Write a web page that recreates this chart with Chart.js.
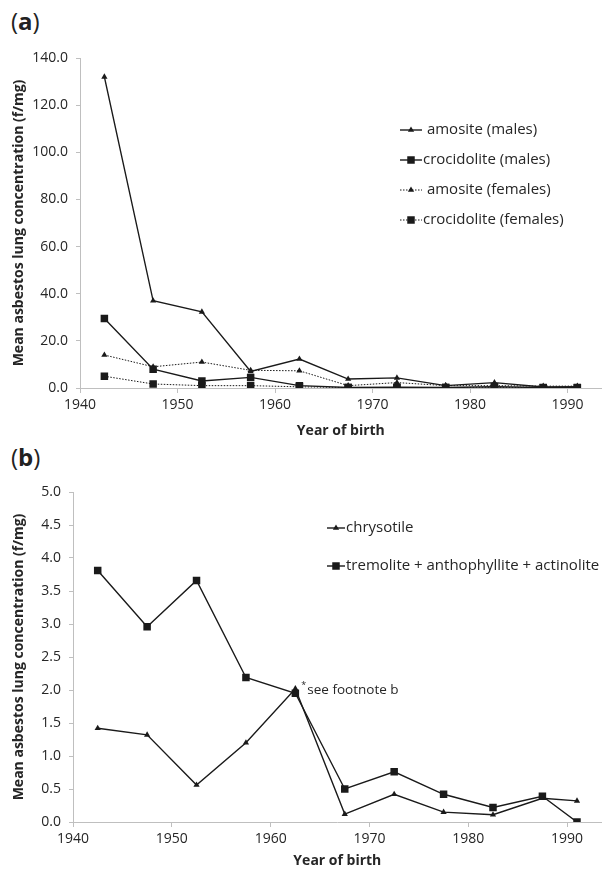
<!DOCTYPE html>
<html>
<head>
<meta charset="utf-8">
<script src="https://cdn.jsdelivr.net/npm/chart.js@4.4.0/dist/chart.umd.min.js"></script>
<style>
  body { margin: 0; background: #fff; width: 607px; height: 870px; position: relative; overflow: hidden; font-family: "Open Sans", sans-serif; }
  .panel { position: absolute; left: 11px; font-size: 24px; color: #222; line-height: 1; }
  #wrapA { position: absolute; left: 0; top: 0; width: 607px; height: 440px; }
  #wrapB { position: absolute; left: 0; top: 440px; width: 607px; height: 430px; }
</style>
</head>
<body>
<div class="panel" style="top:9px">(<b>a</b>)</div>
<div class="panel" style="top:445px">(<b>b</b>)</div>
<div id="wrapA"><canvas id="chartA" width="607" height="440"></canvas></div>
<div id="wrapB"><canvas id="chartB" width="607" height="430"></canvas></div>
<script>
// birth cohort mid-points (last group is plotted a bit further along)
const YEARS = [1942.5, 1947.5, 1952.5, 1957.5, 1962.5, 1967.5, 1972.5, 1977.5, 1982.5, 1987.5, 1991]
const X_TICKS = [1940, 1950, 1960, 1970, 1980, 1990]

// panel (a)
const AMOSITE_M = [132, 37, 32.3, 7, 12.3, 3.8, 4.3, 1, 2.3, 0.4, 0.5]
const CROCIDOLITE_M = [29.5, 8, 3, 4.5, 1, 0.2, 0.3, 0.2, 0.5, 0.2, 0.2]
const AMOSITE_F = [14, 9, 11, 7.5, 7.3, 1, 2.3, 1, 1, 0.8, 0.8]
const CROCIDOLITE_F = [5, 1.7, 1, 1, 0.5, 0.2, 0.2, 0.2, 0.3, 0.1, 0.1]
const LABELS_A = [' amosite (males)', 'crocidolite (males)', ' amosite (females)', 'crocidolite (females)']

// panel (b)
const CHRYSOTILE = [1.42, 1.32, 0.56, 1.2, 2.02, 0.12, 0.42, 0.15, 0.11, 0.36, 0.32]
const TREMOLITE = [3.81, 2.96, 3.66, 2.19, 1.95, 0.5, 0.76, 0.42, 0.22, 0.39, 0.0]
const LABELS_B = ['chrysotile', 'tremolite + anthophyllite + actinolite']
const FOOTNOTE = { x: 1962.5, y: 2.0, star: '*', text: 'see footnote b' }

const Y_TITLE = 'Mean asbestos lung concentration (f/mg)'
const X_TITLE = 'Year of birth'

const FONT = '"Open Sans", sans-serif'
const AXIS_GRAY = '#bfbfbf'
const TEXT = '#262626'

const toPts = (vals) => vals.map((v, i) => ({ x: YEARS[i], y: v }))

function drawMarker(ctx, style, x, y, r) {
    ctx.beginPath()
    if (style == 'rect') {
        const s = r * Math.SQRT1_2
        ctx.rect(x - s, y - s, 2 * s, 2 * s)
    } else {
        ctx.moveTo(x, y - r)
        ctx.lineTo(x + r * 0.87, y + r * 0.5)
        ctx.lineTo(x - r * 0.87, y + r * 0.5)
        ctx.closePath()
    }
    ctx.fill()
}

// legend drawn at a fixed spot inside the plot, like the original
const sideLegend = {
    id: 'sideLegend',
    afterDraw(chart, args, opts) {
        const ctx = chart.ctx
        chart.data.datasets.forEach((ds, i) => {
            const y = opts.y0 + i * opts.gap
            ctx.save()
            ctx.strokeStyle = ds.borderColor
            ctx.lineWidth = ds.borderWidth
            ctx.setLineDash(ds.borderDash || [])
            ctx.beginPath()
            ctx.moveTo(opts.x0, y)
            ctx.lineTo(opts.x0 + opts.len, y)
            ctx.stroke()
            ctx.setLineDash([])
            ctx.fillStyle = ds.pointBackgroundColor
            drawMarker(ctx, ds.pointStyle, opts.x0 + opts.len / 2, y, ds.pointRadius)
            ctx.fillStyle = TEXT
            ctx.font = opts.font
            ctx.textBaseline = 'middle'
            ctx.textAlign = 'left'
            ctx.fillText(ds.label, opts.x0 + opts.len + opts.textGap, y)
            ctx.restore()
        })
    }
}

const footnote = {
    id: 'footnote',
    afterDraw(chart, args, opts) {
        if (!opts.text) return
        const ctx = chart.ctx
        const x = chart.scales.x.getPixelForValue(opts.x)
        const y = chart.scales.y.getPixelForValue(opts.y)
        ctx.save()
        ctx.fillStyle = TEXT
        ctx.textBaseline = 'middle'
        ctx.font = '9px ' + FONT
        ctx.fillText(opts.star, x + 6, y - 5)
        ctx.font = '13.5px ' + FONT
        ctx.fillText(opts.text, x + 12, y)
        ctx.restore()
    }
}

function lineSet(label, vals, style, dotted) {
    return {
        label: label,
        data: toPts(vals),
        borderColor: '#1a1a1a',
        borderWidth: dotted ? 1 : 1.4,
        borderDash: dotted ? [1.5, 1.5] : [],
        pointStyle: style,
        pointRadius: style == 'rect' ? 5.3 : 3.6,
        pointBackgroundColor: '#1a1a1a',
        pointBorderWidth: 0,
        tension: 0
    }
}

function makeOptions(cfg) {
    return {
        responsive: false,
        animation: false,
        layout: { padding: { top: cfg.top, right: 3, left: 0, bottom: 0 } },
        plugins: {
            legend: { display: false },
            tooltip: { enabled: false },
            sideLegend: cfg.legend,
            footnote: cfg.footnote || {}
        },
        scales: {
            x: {
                type: 'linear',
                min: 1940,
                max: 1993.5,
                afterBuildTicks: (s) => { s.ticks = X_TICKS.map(v => ({ value: v })) },
                afterFit: (s) => { s.height = cfg.xHeight },
                ticks: { autoSkip: false, maxRotation: 0, color: TEXT, padding: 4, font: { family: FONT, size: 14 }, callback: (v) => String(v) },
                grid: { drawOnChartArea: false, tickLength: 5, color: AXIS_GRAY },
                border: { color: AXIS_GRAY },
                title: { display: true, text: X_TITLE, color: TEXT, font: { family: FONT, size: 14, weight: 'bold' }, padding: { top: 0, bottom: 1 } }
            },
            y: {
                min: 0,
                max: cfg.yMax,
                afterFit: (s) => { s.width = cfg.yWidth },
                ticks: { stepSize: cfg.yStep, color: TEXT, padding: 8, font: { family: FONT, size: 14 }, callback: (v) => Number(v).toFixed(1) },
                grid: { drawOnChartArea: false, tickLength: 4, color: AXIS_GRAY },
                border: { color: AXIS_GRAY },
                title: { display: true, text: Y_TITLE, color: TEXT, font: { family: FONT, size: 14, weight: 'bold' }, padding: { top: 11, bottom: 0 } }
            }
        }
    }
}

new Chart(document.getElementById('chartA'), {
    type: 'line',
    data: {
        datasets: [
            lineSet(LABELS_A[0], AMOSITE_M, 'triangle', false),
            lineSet(LABELS_A[1], CROCIDOLITE_M, 'rect', false),
            lineSet(LABELS_A[2], AMOSITE_F, 'triangle', true),
            lineSet(LABELS_A[3], CROCIDOLITE_F, 'rect', true)
        ]
    },
    options: makeOptions({
        top: 58, xHeight: 52, yWidth: 80, yMax: 140, yStep: 20,
        legend: { x0: 400, y0: 130, gap: 30, len: 22, textGap: 1, font: '15px ' + FONT }
    }),
    plugins: [sideLegend, footnote]
})

new Chart(document.getElementById('chartB'), {
    type: 'line',
    data: {
        datasets: [
            lineSet(LABELS_B[0], CHRYSOTILE, 'triangle', false),
            lineSet(LABELS_B[1], TREMOLITE, 'rect', false)
        ]
    },
    options: makeOptions({
        top: 52, xHeight: 48, yWidth: 73, yMax: 5, yStep: 0.5,
        legend: { x0: 327, y0: 88, gap: 38, len: 18, textGap: 1, font: '15px ' + FONT },
        footnote: FOOTNOTE
    }),
    plugins: [sideLegend, footnote]
})
</script>
</body>
</html>
